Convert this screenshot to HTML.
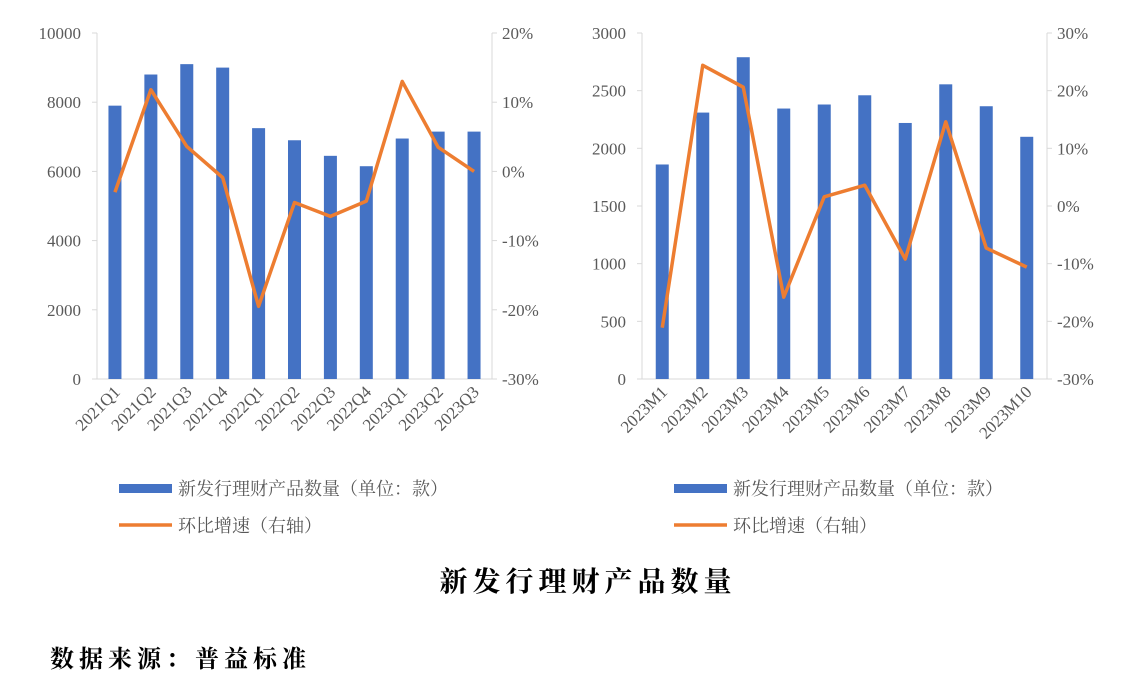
<!DOCTYPE html>
<html><head><meta charset="utf-8"><style>
body{margin:0;background:#fff;width:1148px;height:694px;overflow:hidden}
svg text{font-family:"Liberation Serif","Noto Serif CJK SC",serif}
</style></head><body>
<svg id="s" width="1148" height="694" xmlns="http://www.w3.org/2000/svg">
<text x="588" y="591" text-anchor="middle" font-size="28" font-weight="bold" letter-spacing="5" fill="#000">新发行理财产品数量</text>
<text x="50" y="667" font-size="24" font-weight="bold" letter-spacing="5" fill="#000">数据来源：普益标准</text>
</svg>
<script>
const leftCats=["2021Q1","2021Q2","2021Q3","2021Q4","2022Q1","2022Q2","2022Q3","2022Q4","2023Q1","2023Q2","2023Q3"];
const leftCounts=[7900,8800,9100,9000,7250,6900,6450,6150,6950,7150,7150];
const leftGrowth=[-3,11.8,3.6,-0.9,-19.5,-4.5,-6.5,-4.3,13,3.5,0];
const leftYTicks=[0,2000,4000,6000,8000,10000];
const leftPctTicks=[-30,-20,-10,0,10,20];
const rightCats=["2023M1","2023M2","2023M3","2023M4","2023M5","2023M6","2023M7","2023M8","2023M9","2023M10"];
const rightCounts=[1860,2310,2790,2345,2380,2460,2220,2555,2365,2100];
const rightGrowth=[-21.1,24.4,20.6,-15.8,1.6,3.6,-9.2,14.6,-7.3,-10.6];
const rightYTicks=[0,500,1000,1500,2000,2500,3000];
const rightPctTicks=[-30,-20,-10,0,10,20,30];
const NS="http://www.w3.org/2000/svg";
const svg=document.getElementById('s');
function mk(t,a,p){const e=document.createElementNS(NS,t);for(const k in a)e.setAttribute(k,a[k]);(p||svg).appendChild(e);return e;}
function chart(o){
  const g=mk('g',{});
  
  
  const top=33,bot=379;
  const yMax=o.yTicks[o.yTicks.length-1];
  const y=v=>bot-(v/yMax)*(bot-top);
  const pMin=o.pTicks[0],pMax=o.pTicks[o.pTicks.length-1];
  const yp=v=>bot-(v-pMin)/(pMax-pMin)*(bot-top);
  const bw=(o.x1-o.x0)/o.cats.length;
  const xc=i=>o.x0+bw*(i+0.5);
  mk('line',{x1:o.x0,y1:top,x2:o.x0,y2:bot,stroke:'#d9d9d9'},g);
  mk('line',{x1:o.x1,y1:top,x2:o.x1,y2:bot,stroke:'#d9d9d9'},g);
  mk('line',{x1:o.x0,y1:bot,x2:o.x1,y2:bot,stroke:'#d9d9d9'},g);
  o.yTicks.forEach(v=>{const t=mk('text',{x:o.x0-16,y:y(v)+6,'text-anchor':'end','font-size':17,fill:'#595959'},g);t.textContent=v;
    
    mk('line',{x1:o.x0-5,y1:y(v),x2:o.x0,y2:y(v),stroke:'#d9d9d9'},g);});
  o.pTicks.forEach(v=>{const t=mk('text',{x:o.x1+10,y:yp(v)+6,'font-size':17,fill:'#595959'},g);t.textContent=v+'%';
    
    mk('line',{x1:o.x1,y1:yp(v),x2:o.x1+5,y2:yp(v),stroke:'#d9d9d9'},g);});
  o.cats.forEach((c,i)=>{
    const r=mk('rect',{x:xc(i)-6.5,y:y(o.counts[i]),width:13,height:bot-y(o.counts[i]),fill:'#4472c4'},g);
    
    const t=mk('text',{x:xc(i)+6,y:bot+14,'text-anchor':'end','font-size':17,fill:'#595959',transform:`rotate(-45 ${xc(i)+6} ${bot+14})`},g);t.textContent=c;
    
  });
  const pl=mk('polyline',{points:o.growth.map((v,i)=>xc(i)+','+yp(v)).join(' '),fill:'none',stroke:'#ed7d31','stroke-width':3.5,'stroke-linejoin':'round'},g);
  
  const l1=mk('rect',{x:o.lx,y:484,width:53,height:9,fill:'#4472c4'},g);
  
  const t1=mk('text',{x:o.lx+59,y:495,'font-size':18,fill:'#595959'},g);t1.textContent='新发行理财产品数量（单位：款）';
  
  const l2=mk('line',{x1:o.lx,y1:525,x2:o.lx+53,y2:525,stroke:'#ed7d31','stroke-width':3.5},g);
  
  const t2=mk('text',{x:o.lx+59,y:532,'font-size':18,fill:'#595959'},g);t2.textContent='环比增速（右轴）';
  
}
chart({name:'quarterly-chart',x0:97,x1:492,cats:leftCats,counts:leftCounts,growth:leftGrowth,yTicks:leftYTicks,pTicks:leftPctTicks,lx:119});
chart({name:'monthly-chart',x0:642,x1:1047,cats:rightCats,counts:rightCounts,growth:rightGrowth,yTicks:rightYTicks,pTicks:rightPctTicks,lx:674});
</script>
</body></html>
